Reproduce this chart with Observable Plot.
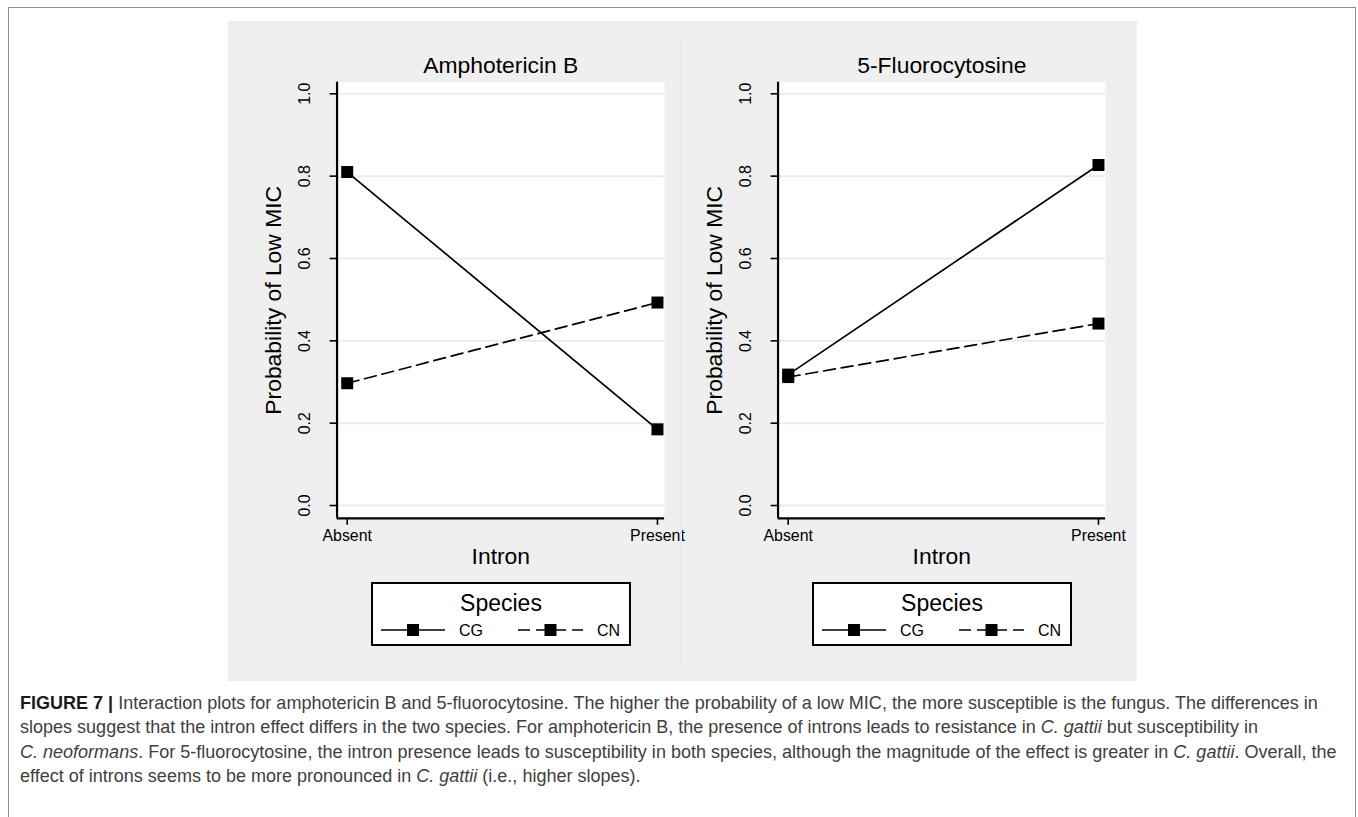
<!DOCTYPE html>
<html>
<head>
<meta charset="utf-8">
<script src="https://cdn.jsdelivr.net/npm/d3@7"></script>
<script src="https://cdn.jsdelivr.net/npm/@observablehq/plot@0.6"></script>
<style>
  html, body { margin: 0; padding: 0; background: #ffffff; }
  body { width: 1358px; height: 817px; position: relative; overflow: hidden; font-family: "Liberation Sans", Arial, sans-serif; }
  #frame { position: absolute; left: 8px; top: 7px; width: 1346px; height: 840px; border: 1.5px solid #8c8c8c; border-bottom: none; }
  #gray { position: absolute; left: 228px; top: 21px; width: 909px; height: 660px; background: #efefef; }
  .sub { position: absolute; top: 33px; height: 635px; box-sizing: border-box; border: 1.5px solid #e4eef0; }
  .sub svg { position: absolute; left: -1.5px; top: -1.5px; overflow: visible; }
  .legend { position: absolute; width: 260px; height: 64px; box-sizing: border-box; border: 2px solid #000; background: #fff; }
  .legend .ttl { position: absolute; left: 0; right: 0; top: 5px; text-align: center; font-size: 23px; line-height: 28px; color: #000; }
  .legend svg.key { position: absolute; left: 0; top: 0; }
  #caption { position: absolute; left: 20px; top: 691px; font-size: 16px; line-height: 24.4px; color: #404040; white-space: nowrap; font-family: "Liberation Sans", Arial, sans-serif; }
  #caption .cl { display: block; }
  #caption .cl span.in { display: inline; }
  #caption b { color: #1a1a1a; }
</style>
</head>
<body>
<div id="frame"></div>
<div id="gray"></div>
<div id="sub0" class="sub" style="left:241px;width:440px;"></div>
<div id="sub1" class="sub" style="left:681px;width:443px;"></div>
<div id="caption">
  <div class="cl"><span class="in"><b>FIGURE 7 |</b> Interaction plots for amphotericin B and 5-fluorocytosine. The higher the probability of a low MIC, the more susceptible is the fungus. The differences in</span></div>
  <div class="cl"><span class="in">slopes suggest that the intron effect differs in the two species. For amphotericin B, the presence of introns leads to resistance in <i>C. gattii</i> but susceptibility in</span></div>
  <div class="cl"><span class="in"><i>C. neoformans</i>. For 5-fluorocytosine, the intron presence leads to susceptibility in both species, although the magnitude of the effect is greater in <i>C. gattii</i>. Overall, the</span></div>
  <div class="cl"><span class="in">effect of introns seems to be more pronounced in <i>C. gattii</i> (i.e., higher slopes).</span></div>
</div>
<script>
// ---- data ----
const drugs = ["Amphotericin B", "5-Fluorocytosine"];
const intron = ["Absent", "Present"];
const species = ["CG", "CN"];
const amphoCG = [0.810, 0.185];
const amphoCN = [0.297, 0.493];
const fluCG = [0.318, 0.827];
const fluCN = [0.312, 0.442];
const yTicks = [0.0, 0.2, 0.4, 0.6, 0.8, 1.0];
const yLabel = "Probability of Low MIC";
const xLabel = "Intron";
const legendTitle = "Species";

const seriesByDrug = [
  {CG: amphoCG, CN: amphoCN},
  {CG: fluCG, CN: fluCN}
];

const xDomain = [-0.0327, 1.0229];
const yDomain = [-0.031, 1.028];
const font = "'Liberation Sans', Arial, sans-serif";

const layouts = [
  {width: 440, marginLeft: 96, marginRight: 15},
  {width: 443, marginLeft: 97, marginRight: 17}
];

drugs.forEach((drug, k) => {
  const L = layouts[k];
  const rows = [];
  species.forEach(s => {
    seriesByDrug[k][s].forEach((p, i) => rows.push({drug, species: s, intron: intron[i], i, p}));
  });
  const chart = Plot.plot({
    width: L.width,
    height: 635,
    marginLeft: L.marginLeft,
    marginRight: L.marginRight,
    marginTop: 49,
    marginBottom: 148,
    style: {background: "transparent", fontFamily: font, color: "#000", overflow: "visible"},
    x: {domain: xDomain},
    y: {domain: yDomain},
    marks: [
      Plot.frame({fill: "#ffffff", stroke: "none"}),
      Plot.gridY(yTicks, {stroke: "#e3eef0", strokeOpacity: 1, strokeWidth: 2}),
      Plot.line(rows.filter(d => d.species === "CG"), {x: "i", y: "p", stroke: "#000", strokeWidth: 1.7}),
      Plot.line(rows.filter(d => d.species === "CN"), {x: "i", y: "p", stroke: "#000", strokeWidth: 1.7, strokeDasharray: "12,6"}),
      Plot.dot(rows, {x: "i", y: "p", symbol: "square", r: 6.8, fill: "#000", stroke: "none"}),
      Plot.axisY(yTicks, {tickRotate: -90, tickSize: 7, tickPadding: 20, tickFormat: d3.format(".1f"), fontSize: 16, label: null, strokeWidth: 1.6}),
      Plot.axisX([0, 1], {tickSize: 7, tickPadding: 4, tickFormat: i => intron[i], fontSize: 16, label: null, strokeWidth: 1.6}),
      Plot.ruleX([xDomain[0]], {stroke: "#000", strokeWidth: 2.2}),
      Plot.ruleY([yDomain[0]], {stroke: "#000", strokeWidth: 2.2}),
      Plot.text([drug], {frameAnchor: "top", lineAnchor: "middle", dy: -17, fontSize: 23, fill: "#000"}),
      Plot.text([yLabel], {frameAnchor: "left", textAnchor: "middle", lineAnchor: "middle", rotate: -90, dx: -64, fontSize: 23, fill: "#000"}),
      Plot.text([xLabel], {frameAnchor: "bottom", lineAnchor: "middle", dy: 39, fontSize: 23, fill: "#000"})
    ]
  });
  const sub = document.getElementById("sub" + k);
  sub.appendChild(chart);

  // legend (below the plot, inside the graph region)
  const plotW = L.width - L.marginLeft - L.marginRight;
  const lg = document.createElement("div");
  lg.className = "legend";
  lg.style.left = (L.marginLeft + (plotW - 260) / 2 - 1.5) + "px";
  lg.style.top = (549 - 1.5) + "px";
  const ttl = document.createElement("div");
  ttl.className = "ttl";
  ttl.textContent = legendTitle;
  lg.appendChild(ttl);
  const ns = "http://www.w3.org/2000/svg";
  const key = document.createElementNS(ns, "svg");
  key.setAttribute("class", "key");
  key.setAttribute("width", 256);
  key.setAttribute("height", 60);
  const items = [
    {name: species[0], x0: 8, x1: 72, dash: null, tx: 86},
    {name: species[1], x0: 145, x1: 210, dash: "12,6", tx: 224}
  ];
  items.forEach(it => {
    const ln = document.createElementNS(ns, "line");
    ln.setAttribute("x1", it.x0); ln.setAttribute("x2", it.x1);
    ln.setAttribute("y1", 46); ln.setAttribute("y2", 46);
    ln.setAttribute("stroke", "#000"); ln.setAttribute("stroke-width", 1.7);
    if (it.dash) ln.setAttribute("stroke-dasharray", it.dash);
    key.appendChild(ln);
    const sq = document.createElementNS(ns, "rect");
    const cx = (it.x0 + it.x1) / 2;
    sq.setAttribute("x", cx - 6); sq.setAttribute("y", 40);
    sq.setAttribute("width", 12); sq.setAttribute("height", 12);
    sq.setAttribute("fill", "#000");
    key.appendChild(sq);
    const t = document.createElementNS(ns, "text");
    t.setAttribute("x", it.tx); t.setAttribute("y", 52);
    t.setAttribute("font-size", 16);
    t.setAttribute("font-family", font);
    t.textContent = it.name;
    key.appendChild(t);
  });
  lg.appendChild(key);
  sub.appendChild(lg);
});

// fit caption so its widest line spans ~1317px, like the reference
const cap = document.getElementById("caption");
const spans = Array.from(cap.querySelectorAll("span.in"));
const maxW = Math.max(...spans.map(s => s.getBoundingClientRect().width));
cap.style.fontSize = (16 * 1317 / maxW).toFixed(3) + "px";
</script>
</body>
</html>
